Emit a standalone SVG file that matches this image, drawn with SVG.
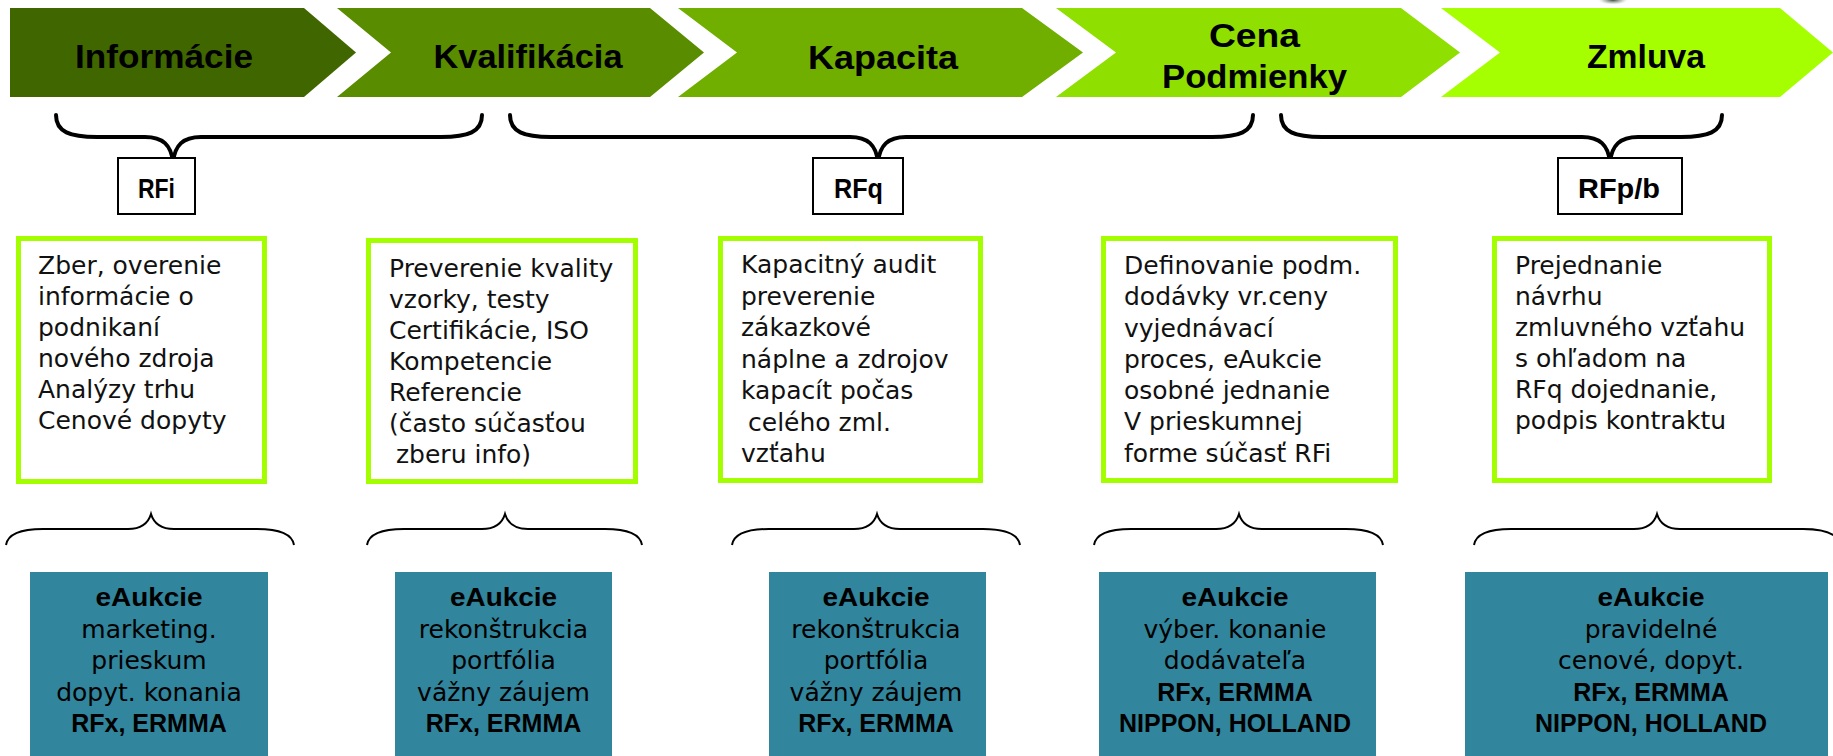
<svg xmlns="http://www.w3.org/2000/svg" width="1833" height="756" viewBox="0 0 1833 756">
<defs>
<radialGradient id="blob" cx="0.5" cy="0.5" r="0.5">
<stop offset="0" stop-color="#1e3a1e" stop-opacity="0.9"/>
<stop offset="0.6" stop-color="#6a7a6a" stop-opacity="0.35"/>
<stop offset="1" stop-color="#ffffff" stop-opacity="0"/>
</radialGradient>
</defs>
<style>
.head{font-family:"Liberation Sans",Arial,sans-serif;font-weight:bold;font-size:34px;fill:#000;text-anchor:middle}
.rf{font-family:"Liberation Sans Narrow","Liberation Sans",sans-serif;font-weight:bold;font-size:28px;fill:#000;text-anchor:middle}
.rfbox{fill:#fff;stroke:#000;stroke-width:2}
.gbox{fill:#fff;stroke:#a3ff00;stroke-width:5}
.body{font-family:"DejaVu Sans",sans-serif;font-size:25px;fill:#111}
.teal{fill:#31859c}
.tt{font-family:"DejaVu Sans",sans-serif;font-size:25px;fill:#000;text-anchor:middle}
.tb{font-family:"Liberation Sans",Arial,sans-serif;font-weight:bold;font-size:25px;fill:#000;text-anchor:middle}
.bigbrace{fill:none;stroke:#000;stroke-width:4;stroke-linecap:round;stroke-linejoin:round}
.smallbrace{fill:none;stroke:#000;stroke-width:2}
</style>
<rect width="1833" height="756" fill="#fff"/>
<ellipse cx="1613" cy="0" rx="16" ry="5" fill="url(#blob)"/>

<g id="chevrons">
<g id="ch-informacie">
<polygon points="10,8 304,8 356,52.5 304,97 10,97" fill="#406600"/>
<text class="head" x="164" y="68" textLength="178" lengthAdjust="spacingAndGlyphs">Informácie</text>
</g>
<g id="ch-kvalifikacia">
<polygon points="337,8 650,8 704,52.5 650,97 337,97 391,52.5" fill="#5a8c00"/>
<text class="head" x="528" y="68" textLength="189" lengthAdjust="spacingAndGlyphs">Kvalifikácia</text>
</g>
<g id="ch-kapacita">
<polygon points="678,8 1022,8 1083,52.5 1022,97 678,97 737,52.5" fill="#70ae00"/>
<text class="head" x="883" y="69" textLength="150" lengthAdjust="spacingAndGlyphs">Kapacita</text>
</g>
<g id="ch-cena">
<polygon points="1056,8 1401,8 1460,52.5 1401,97 1056,97 1116,52.5" fill="#8fdf00"/>
<text class="head" x="1254.5" y="47" textLength="91" lengthAdjust="spacingAndGlyphs">Cena</text>
<text class="head" x="1254.5" y="88" textLength="185" lengthAdjust="spacingAndGlyphs">Podmienky</text>
</g>
<g id="ch-zmluva">
<polygon points="1441,8 1780,8 1833,52.5 1780,97 1441,97 1500,52.5" fill="#a6ff00"/>
<text class="head" x="1646" y="68" textLength="118" lengthAdjust="spacingAndGlyphs">Zmluva</text>
</g>
</g>

<g id="connectors">
<path class="bigbrace" d="M56,115 C56,132 70,137 97,137 L145,137 C163,137 171,145 173,162 C175,145 183,137 201,137 L441,137 C468,137 482,132 482,115"/>
<path class="bigbrace" d="M510,115 C510,132 524,137 551,137 L850,137 C868,137 876,145 878,162 C880,145 888,137 906,137 L1212,137 C1239,137 1253,132 1253,115"/>
<path class="bigbrace" d="M1281,115 C1281,132 1295,137 1322,137 L1582,137 C1600,137 1608,145 1610,162 C1612,145 1620,137 1638,137 L1681,137 C1708,137 1722,132 1722,115"/>

<path class="smallbrace" d="M6,545 C8,533 22,529 43,529 L128,529 C141,529 148,524 151,514 C154,524 161,529 174,529 L257,529 C278,529 292,533 294,545"/>
<path class="smallbrace" d="M367,545 C369,533 383,529 404,529 L482,529 C495,529 502,524 505,514 C508,524 515,529 528,529 L605,529 C626,529 640,533 642,545"/>
<path class="smallbrace" d="M732,545 C734,533 748,529 769,529 L854,529 C867,529 874,524 877,514 C880,524 887,529 900,529 L983,529 C1004,529 1018,533 1020,545"/>
<path class="smallbrace" d="M1094,545 C1096,533 1110,529 1131,529 L1216,529 C1229,529 1236,524 1239,514 C1242,524 1249,529 1262,529 L1346,529 C1367,529 1381,533 1383,545"/>
<path class="smallbrace" d="M1474,545 C1476,533 1490,529 1511,529 L1634,529 C1647,529 1654,524 1657,514 C1660,524 1667,529 1680,529 L1803,529 C1824,529 1838,533 1840,545"/>
</g>

<g id="rfi">
<rect class="rfbox" x="118" y="158" width="77" height="56"/>
<text class="rf" x="156.5" y="198" textLength="37" lengthAdjust="spacingAndGlyphs">RFi</text>
</g>
<g id="rfq">
<rect class="rfbox" x="813" y="158" width="90" height="56"/>
<text class="rf" x="858.5" y="198" textLength="49" lengthAdjust="spacingAndGlyphs">RFq</text>
</g>
<g id="rfpb">
<rect class="rfbox" x="1558" y="158" width="124" height="56"/>
<text class="rf" x="1619" y="198" textLength="82" lengthAdjust="spacingAndGlyphs">RFp/b</text>
</g>

<g id="box-informacie">
<rect class="gbox" x="18.5" y="238.5" width="246" height="243"/>
<text class="body" x="38" y="274">Zber, overenie</text>
<text class="body" x="38" y="305">informácie o</text>
<text class="body" x="38" y="336">podnikaní</text>
<text class="body" x="38" y="367">nového zdroja</text>
<text class="body" x="38" y="398">Analýzy trhu</text>
<text class="body" x="38" y="429">Cenové dopyty</text>
</g>
<g id="box-kvalifikacia">
<rect class="gbox" x="368.5" y="240.5" width="267" height="241"/>
<text class="body" x="389" y="277">Preverenie kvality</text>
<text class="body" x="389" y="308">vzorky, testy</text>
<text class="body" x="389" y="339">Certifikácie, ISO</text>
<text class="body" x="389" y="370">Kompetencie</text>
<text class="body" x="389" y="401">Referencie</text>
<text class="body" x="389" y="432">(často súčasťou</text>
<text class="body" x="396" y="463">zberu info)</text>
</g>
<g id="box-kapacita">
<rect class="gbox" x="720.5" y="238.5" width="260" height="242"/>
<text class="body" x="741" y="273">Kapacitný audit</text>
<text class="body" x="741" y="304.5">preverenie</text>
<text class="body" x="741" y="336">zákazkové</text>
<text class="body" x="741" y="367.5">náplne a zdrojov</text>
<text class="body" x="741" y="399">kapacít počas</text>
<text class="body" x="748" y="430.5">celého zml.</text>
<text class="body" x="741" y="462">vzťahu</text>
</g>
<g id="box-cena">
<rect class="gbox" x="1103.5" y="238.5" width="292" height="242"/>
<text class="body" x="1124" y="274">Definovanie podm.</text>
<text class="body" x="1124" y="305">dodávky vr.ceny</text>
<text class="body" x="1124" y="337">vyjednávací</text>
<text class="body" x="1124" y="368">proces, eAukcie</text>
<text class="body" x="1124" y="399">osobné jednanie</text>
<text class="body" x="1124" y="430">V prieskumnej</text>
<text class="body" x="1124" y="462">forme súčasť RFi</text>
</g>
<g id="box-zmluva">
<rect class="gbox" x="1494.5" y="238.5" width="275" height="242"/>
<text class="body" x="1515" y="274">Prejednanie</text>
<text class="body" x="1515" y="305">návrhu</text>
<text class="body" x="1515" y="336">zmluvného vzťahu</text>
<text class="body" x="1515" y="367">s ohľadom na</text>
<text class="body" x="1515" y="398">RFq dojednanie,</text>
<text class="body" x="1515" y="429">podpis kontraktu</text>
</g>

<g id="eauk-1">
<rect class="teal" x="30" y="572" width="238" height="190"/>
<text class="tb" x="149" y="606" textLength="107" lengthAdjust="spacingAndGlyphs">eAukcie</text>
<text class="tt" x="149" y="637.5">marketing.</text>
<text class="tt" x="149" y="669">prieskum</text>
<text class="tt" x="149" y="700.5">dopyt. konania</text>
<text class="tb" x="149" y="732">RFx, ERMMA</text>
</g>
<g id="eauk-2">
<rect class="teal" x="395" y="572" width="217" height="190"/>
<text class="tb" x="503.5" y="606" textLength="107" lengthAdjust="spacingAndGlyphs">eAukcie</text>
<text class="tt" x="503.5" y="637.5">rekonštrukcia</text>
<text class="tt" x="503.5" y="669">portfólia</text>
<text class="tt" x="503.5" y="700.5">vážny záujem</text>
<text class="tb" x="503.5" y="732">RFx, ERMMA</text>
</g>
<g id="eauk-3">
<rect class="teal" x="769" y="572" width="217" height="190"/>
<text class="tb" x="876" y="606" textLength="107" lengthAdjust="spacingAndGlyphs">eAukcie</text>
<text class="tt" x="876" y="637.5">rekonštrukcia</text>
<text class="tt" x="876" y="669">portfólia</text>
<text class="tt" x="876" y="700.5">vážny záujem</text>
<text class="tb" x="876" y="732">RFx, ERMMA</text>
</g>
<g id="eauk-4">
<rect class="teal" x="1099" y="572" width="277" height="190"/>
<text class="tb" x="1235" y="606" textLength="107" lengthAdjust="spacingAndGlyphs">eAukcie</text>
<text class="tt" x="1235" y="637.5">výber. konanie</text>
<text class="tt" x="1235" y="669">dodávateľa</text>
<text class="tb" x="1235" y="700.5">RFx, ERMMA</text>
<text class="tb" x="1235" y="732">NIPPON, HOLLAND</text>
</g>
<g id="eauk-5">
<rect class="teal" x="1465" y="572" width="363" height="190"/>
<text class="tb" x="1651" y="606" textLength="107" lengthAdjust="spacingAndGlyphs">eAukcie</text>
<text class="tt" x="1651" y="637.5">pravidelné</text>
<text class="tt" x="1651" y="669">cenové, dopyt.</text>
<text class="tb" x="1651" y="700.5">RFx, ERMMA</text>
<text class="tb" x="1651" y="732">NIPPON, HOLLAND</text>
</g>
</svg>
